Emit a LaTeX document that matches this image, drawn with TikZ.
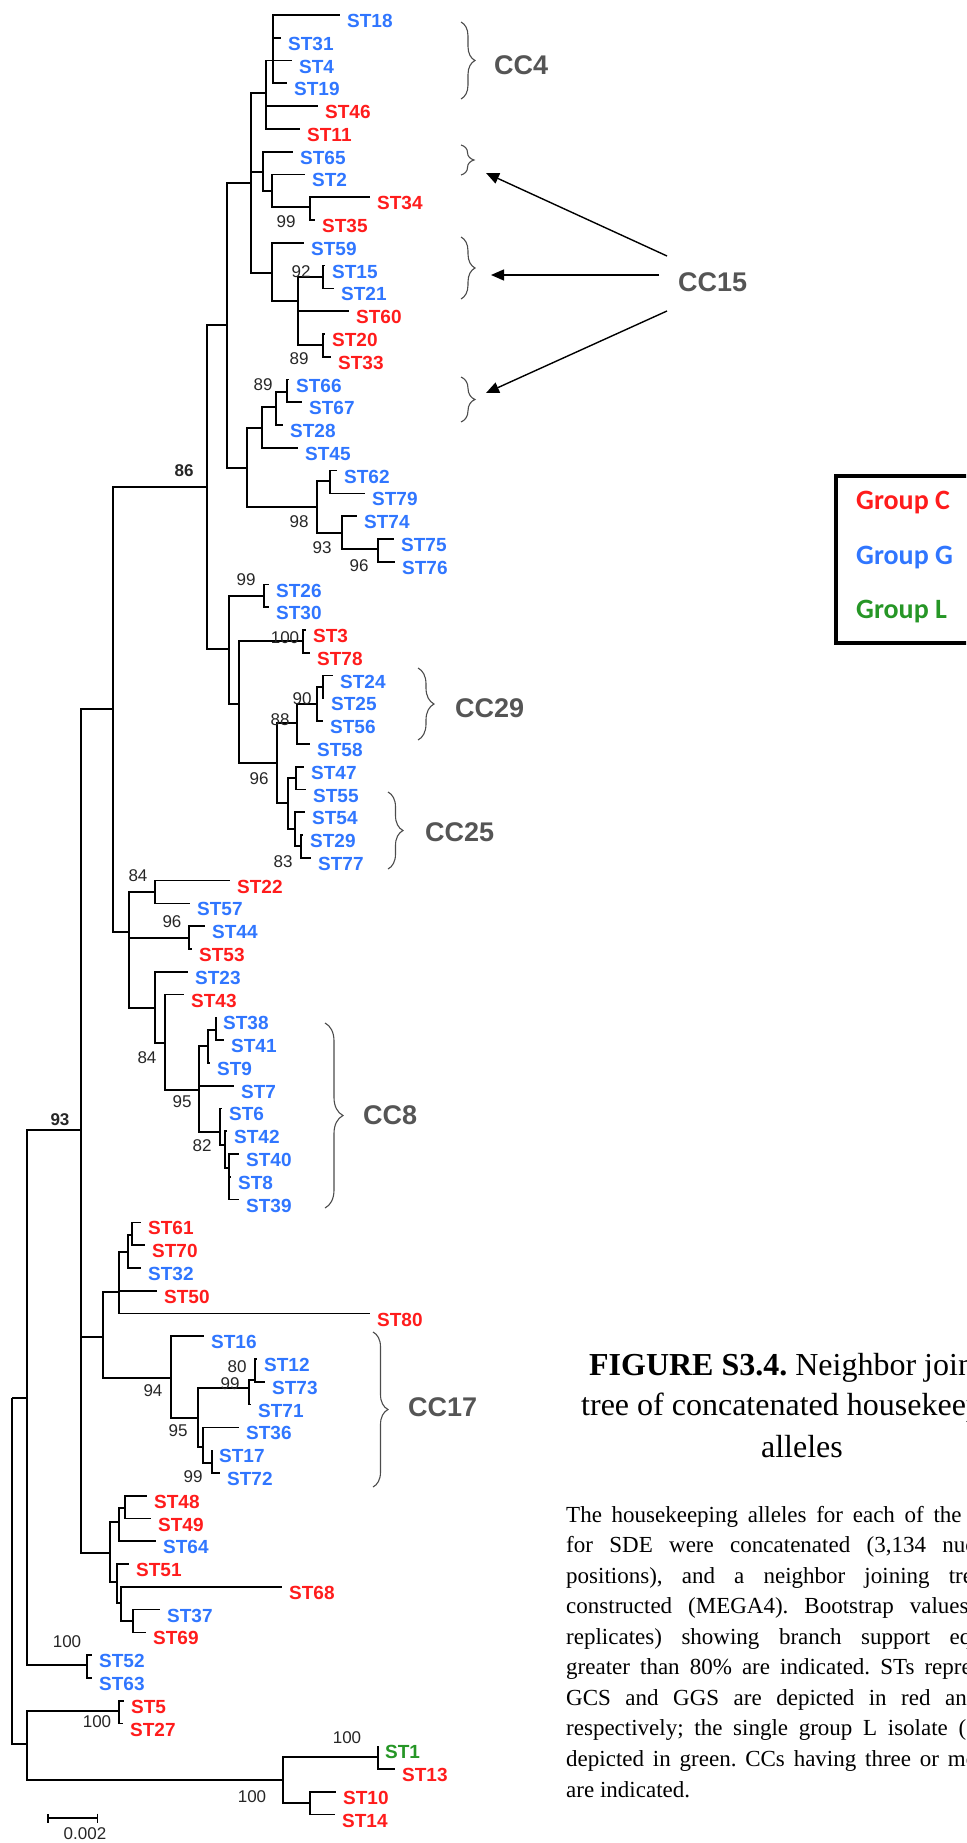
\documentclass[tikz,border=0pt]{standalone}
\usepackage{fontspec}
\setmainfont{Liberation Serif}
\setsansfont{Liberation Sans}
\newfontfamily\legendfont{Carlito}
\usepackage{tikz}
\usetikzlibrary{arrows.meta,positioning,decorations.pathreplacing}
\frenchspacing

\definecolor{gcs}{RGB}{255,28,28}
\definecolor{ggs}{RGB}{48,118,255}
\definecolor{gls}{RGB}{38,150,38}
\definecolor{ccgrey}{RGB}{85,85,85}

\tikzset{
  branch/.style={line width=1.7pt},
  leaf/.style={anchor=west,inner sep=0pt,xshift=7pt,yshift=-6pt,font=\sffamily\bfseries\fontsize{19}{19}\selectfont},
  grpC/.style={leaf,text=gcs},
  grpG/.style={leaf,text=ggs},
  grpL/.style={leaf,text=gls},
  boot/.style={inner sep=0pt,text=black!85,font=\sffamily\fontsize{17}{17}\selectfont},
  bootbold/.style={boot,font=\sffamily\bfseries\fontsize{17}{17}\selectfont},
  cc/.style={anchor=west,inner sep=0pt,text=ccgrey,font=\sffamily\bfseries\fontsize{27}{27}\selectfont},
  ccbrace/.style={decorate,decoration={brace,amplitude=#1},line width=1.1pt,black!70},
  ccarrow/.style={line width=1.4pt,-{Triangle[length=13pt,width=11pt]}},
  para/.style={anchor=base west,inner sep=0pt,font=\fontsize{23}{23}\selectfont},
  ttl/.style={anchor=base,inner sep=0pt,font=\fontsize{32}{32}\selectfont},
  grp/.style={anchor=west,inner sep=0pt,font=\legendfont\bfseries\fontsize{28}{28}\selectfont},
}

\begin{document}
\begin{tikzpicture}[x=1pt,y=-1pt]
  \useasboundingbox (0,0) rectangle (966,1843);
  \clip (0,0) rectangle (966,1843);

  % leaves: name / row / tip x / group
  \foreach \n/\i/\x/\g in {18/1/340/grpG, 31/2/281/grpG, 4/3/292/grpG, 19/4/287/grpG,
      46/5/318/grpC, 11/6/300/grpC, 65/7/293/grpG, 2/8/305/grpG, 34/9/370/grpC,
      35/10/315/grpC, 59/11/304/grpG, 15/12/325/grpG, 21/13/334/grpG, 60/14/349/grpC,
      20/15/325/grpC, 33/16/331/grpC, 66/17/289/grpG, 67/18/302/grpG, 28/19/283/grpG,
      45/20/298/grpG, 62/21/337/grpG, 79/22/365/grpG, 74/23/357/grpG, 75/24/394/grpG,
      76/25/395/grpG, 26/26/269/grpG, 30/27/269/grpG, 3/28/306/grpC, 78/29/310/grpC,
      24/30/333/grpG, 25/31/324/grpG, 56/32/323/grpG, 58/33/310/grpG, 47/34/304/grpG,
      55/35/306/grpG, 54/36/305/grpG, 29/37/303/grpG, 77/38/311/grpG, 22/39/230/grpC,
      57/40/190/grpG, 44/41/205/grpG, 53/42/192/grpC, 23/43/188/grpG, 43/44/184/grpC,
      38/45/216/grpG, 41/46/224/grpG, 9/47/210/grpG, 7/48/234/grpG, 6/49/222/grpG,
      42/50/227/grpG, 40/51/239/grpG, 8/52/231/grpG, 39/53/239/grpG, 61/54/141/grpC,
      70/55/145/grpC, 32/56/141/grpG, 50/57/157/grpC, 80/58/370/grpC, 16/59/204/grpG,
      12/60/257/grpG, 73/61/265/grpG, 71/62/251/grpG, 36/63/239/grpG, 17/64/212/grpG,
      72/65/220/grpG, 48/66/147/grpC, 49/67/151/grpC, 64/68/156/grpG, 51/69/129/grpC,
      68/70/282/grpC, 37/71/160/grpG, 69/72/146/grpC, 52/73/92/grpG, 63/74/92/grpG,
      5/75/124/grpC, 27/76/123/grpC, 1/77/378/grpL, 13/78/395/grpC, 10/79/336/grpC,
      14/80/335/grpC}
  {
    \coordinate (t\n) at (\x,{15+(\i-1)*22.78});
    \node[\g] (l\n) at (t\n) {ST\n};
  }

  % internal nodes of the tree
  \foreach \n/\x/\y in {c4a/273/60.6, c4b/266/93, c2/272/191, c34/310/207, c15a/263/172,
      c15/323/277, c20/323/345, c60/298/301, c59/272/273, c4c/251/183, c66/287/392,
      c28/276/407, c45/262/428, c62/330/481, c75/378/549, c74/342/533, c98/317/507,
      c45p/247/468, cA/227/325, c26/264/596, c3/303/641, c24/323/687, c90/317/704,
      c88/297/723, c47/296/778, c29/301/846, c54/295/829, c96/288/803, c58p/277/763,
      c3p/239/704, cB/229/649, c86/207/487, c22/155/892, c44/189/938, c38/216/1030,
      c9/208/1046, c40/229/1168, c42/225/1145, c6/220/1132, c95/199/1090, c43/165/1043,
      c23/155/1008, cC/129/932, cU/113/709, c61/132/1235, c32/128/1252, c50/119/1292,
      c12/255/1380, c71/249/1388, c17/212/1463, c36/203/1447, c95b/198/1418,
      c16/171/1378, c103/103/1337, c48/125/1508, c64/119/1522, c37/133/1621,
      c68/121/1603, c51/117/1582, c110/110/1553, c81/81/1130, c52/87/1665,
      c27/27/1398, c5/119/1711, c1/378/1757, c10/310/1803, c283/283/1780,
      c27b/27/1744, root/12/1398}
    \coordinate (\n) at (\x,\y);

  % branches
  \foreach \p/\c in {c4a/t18, c4a/t31, c4a/t4, c4a/t19, c4b/c4a, c4b/t46, c4b/t11,
      c34/t34, c34/t35, c2/t2, c2/c34, c15a/t65, c15a/c2, c15/t15, c15/t21,
      c20/t20, c20/t33, c60/c15, c60/t60, c60/c20, c59/t59, c59/c60,
      c4c/c4b, c4c/c15a, c4c/c59, c66/t66, c66/t67, c28/c66, c28/t28, c45/c28, c45/t45,
      c62/t62, c62/t79, c75/t75, c75/t76, c74/t74, c74/c75, c98/c62, c98/c74,
      c45p/c45, c45p/c98, cA/c4c, cA/c45p, c26/t26, c26/t30, c3/t3, c3/t78,
      c24/t24, c24/t25, c90/c24, c90/t56, c88/c90, c88/t58, c47/t47, c47/t55,
      c29/t29, c29/t77, c54/t54, c54/c29, c96/c47, c96/c54, c58p/c88, c58p/c96,
      c3p/c3, c3p/c58p, cB/c26, cB/c3p, c86/cA, c86/cB, c22/t22, c22/t57,
      c44/t44, c44/t53, c38/t38, c38/t41, c9/c38, c9/t9, c40/t40, c40/t8, c40/t39,
      c42/t42, c42/c40, c6/t6, c6/c42, c95/c9, c95/t7, c95/c6, c43/t43, c43/c95,
      c23/t23, c23/c43, cC/c22, cC/c44, cC/c23, cU/c86, cU/cC, c61/t61, c61/t70,
      c32/c61, c32/t32, c50/c32, c50/t50, c50/t80, c12/t12, c12/t73, c71/c12, c71/t71,
      c17/t17, c17/t72, c36/t36, c36/c17, c95b/c71, c95b/c36, c16/t16, c16/c95b,
      c103/c50, c103/c16, c48/t48, c48/t49, c64/c48, c64/t64, c37/t37, c37/t69,
      c68/t68, c68/c37, c51/t51, c51/c68, c110/c64, c110/c51, c81/cU, c81/c103,
      c81/c110, c52/t52, c52/t63, c27/c81, c27/c52, c5/t5, c5/t27, c1/t1, c1/t13,
      c10/t10, c10/t14, c283/c1, c283/c10, c27b/c5, c27b/c283, root/c27, root/c27b}
    \draw[branch] (\p) |- (\c);

  % bootstrap values
  \foreach \v/\x/\y [count=\k] in {99/286/222, 92/301/272, 89/299/359, 89/263/385,
      98/299/522, 93/322/548, 96/359/566, 99/246/580, 100/285/638, 90/302/699,
      88/280/720, 96/259/779, 83/283/862, 84/138/876, 96/172/922, 84/147/1058,
      95/182/1102, 82/202/1146, 80/237/1367, 99/230/1384, 94/153/1391, 95/178/1431,
      99/193/1477, 100/67/1642, 100/97/1722, 100/347/1738, 100/252/1797}
    \node[boot] (bs\k) at (\x,\y) {\v};
  \node[bootbold] (bs86) at (184,471) {86};
  \node[bootbold] (bs93) at (60,1120) {93};

  % scale bar
  \coordinate (sbL) at (47,1818);
  \coordinate (sbR) at (98,1818);
  \draw[line width=1.5pt,{Bar[width=9pt]}-{Bar[width=9pt]}] (sbL) -- (sbR);
  \node[boot] (sbtext) at (85,1834) {0.002};

  % clonal complexes
  \draw[ccbrace=14pt] (461,22) -- (461,99);
  \node[cc] (cc4) at (494,65) {CC4};
  \draw[ccbrace=13pt] (461,145) -- (461,175);
  \draw[ccbrace=14pt] (461,237) -- (461,299);
  \draw[ccbrace=14pt] (461,377) -- (461,422);
  \node[cc] (cc15) at (678,282) {CC15};
  \coordinate (s1) at (667,256);
  \coordinate (e1) at (486,173);
  \coordinate (s2) at (659,275);
  \coordinate (e2) at (491,275);
  \coordinate (s3) at (667,311);
  \coordinate (e3) at (486,393);
  \draw[ccarrow] (s1) -- (e1);
  \draw[ccarrow] (s2) -- (e2);
  \draw[ccarrow] (s3) -- (e3);
  \draw[ccbrace=16pt] (418,668) -- (418,740);
  \node[cc] (cc29) at (455,708) {CC29};
  \draw[ccbrace=15pt] (388,792) -- (388,869);
  \node[cc] (cc25) at (425,832) {CC25};
  \draw[ccbrace=18pt] (325,1023) -- (325,1208);
  \node[cc] (cc8) at (363,1115) {CC8};
  \draw[ccbrace=15pt] (373,1332) -- (373,1487);
  \node[cc] (cc17) at (408,1407) {CC17};

  % legend
  \node[draw,line width=4pt,outer sep=0pt,inner sep=0pt,minimum width=180pt,
        minimum height=167pt,anchor=north west] (legend) at (836,476) {};
  \node[grp,text=gcs] (legC) at (856,503) {Group C};
  \node[grp,text=ggs] (legG) at (856,558) {Group G};
  \node[grp,text=gls] (legL) at (856,612) {Group L};

  % caption
  \node[ttl] (title1) at (802,1375) {\textbf{FIGURE S3.4.} Neighbor joining};
  \node[ttl] (title2) at (802,1415) {tree of concatenated housekeeping};
  \node[ttl] (title3) at (802,1457) {alleles};
  \foreach \t [count=\k] in {{The housekeeping alleles for each of the 80 STs},
      {for SDE were concatenated (3,134 nucleotide},
      {positions), and a neighbor joining tree was},
      {constructed (MEGA4). Bootstrap values (1000},
      {replicates) showing branch support equal or},
      {greater than 80\% are indicated. STs representing},
      {GCS and GGS are depicted in red and blue,},
      {respectively; the single group L isolate (ST1) is},
      {depicted in green. CCs having three or more STs}}
    \node[para] (par\k) at (566,{1522+(\k-1)*30.55}) {\hbox to 472pt{\t}};
  \node[para] (par10) at (566,1797) {are indicated.};
\end{tikzpicture}
\end{document}
